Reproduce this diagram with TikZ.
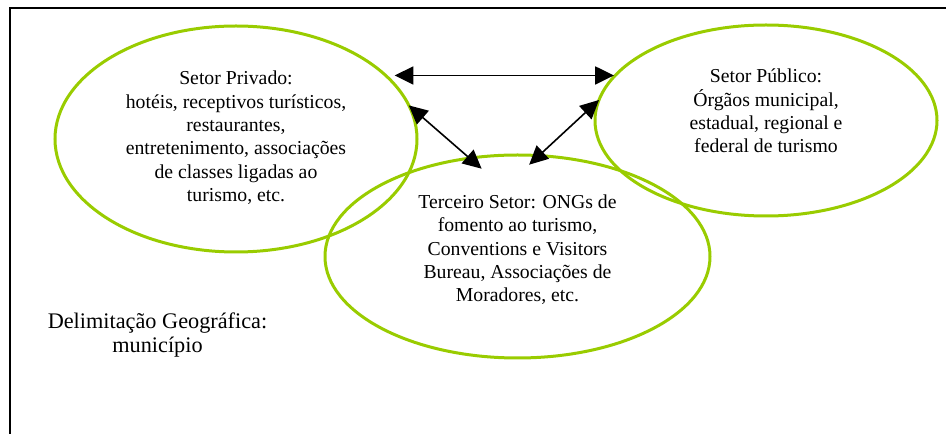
\documentclass[tikz,border=0pt]{standalone}
\usepackage{fontspec}
\setmainfont{Liberation Serif}
\usetikzlibrary{arrows.meta}
\usetikzlibrary{shapes.geometric}
\definecolor{setorgreen}{RGB}{153,204,0}
\tikzset{every picture/.style={line width=0.75pt}}
\tikzset{
  setor/.style={draw=setorgreen, line width=2.25pt, ellipse, inner sep=0pt, outer sep=0pt},
  setortxt/.style={align=center, inner sep=0.75pt, font=\fontsize{14.8}{17.5}\selectfont},
  liga/.style={{Triangle[length=14pt,width=13.5pt]}-{Triangle[length=14pt,width=13.5pt]}, line width=1.2pt},
}

\begin{document}
\begin{tikzpicture}[x=0.75pt,y=0.75pt,yscale=-1,xscale=1]
\useasboundingbox (0,0) rectangle (946,434);

%Frame 
\draw [line width=1.5pt] (10,434) -- (10,8) -- (946,8) ;

%Shape: Ellipse [setor privado] 
\node (priv) at (236,139) [setor, minimum width=271.5pt, minimum height=169.5pt] {};
%Shape: Ellipse [setor publico] 
\node (pub) at (766,120.5) [setor, minimum width=256.5pt, minimum height=143.25pt] {};
%Shape: Ellipse [terceiro setor] 
\node (ter) at (517.5,256.5) [setor, minimum width=288.75pt, minimum height=152.25pt] {};

%Straight Lines 
\draw [liga, shorten <=6.75pt] (priv.23) -- (priv.23 -| pub.164) ;
%Straight Lines 
\draw [liga, shorten >=-12pt] (priv.11) -- (ter.116) ;
%Straight Lines 
\draw [liga, shorten >=-10pt] (pub.173) -- (ter.78) ;

% Text Node
\node (privtxt) at (236,138) [setortxt] {Setor Privado:\\hotéis, receptivos turísticos,\\restaurantes,\\entretenimento, associações\\de classes ligadas ao\\turismo, etc.};
% Text Node
\node (pubtxt) at (766,111) [setortxt] {Setor Público:\\Órgãos municipal,\\estadual, regional e\\federal de turismo};
% Text Node
\node (tertxt) at (517.5,250) [setortxt] {Terceiro Setor: ONGs de\\fomento ao turismo,\\Conventions e Visitors\\Bureau, Associações de\\Moradores, etc.};
% Text Node
\node (geo) at (157.5,335) [setortxt, font=\fontsize{16.7}{17.8}\selectfont] {Delimitação Geográfica:\\município};

\end{tikzpicture}
\end{document}
